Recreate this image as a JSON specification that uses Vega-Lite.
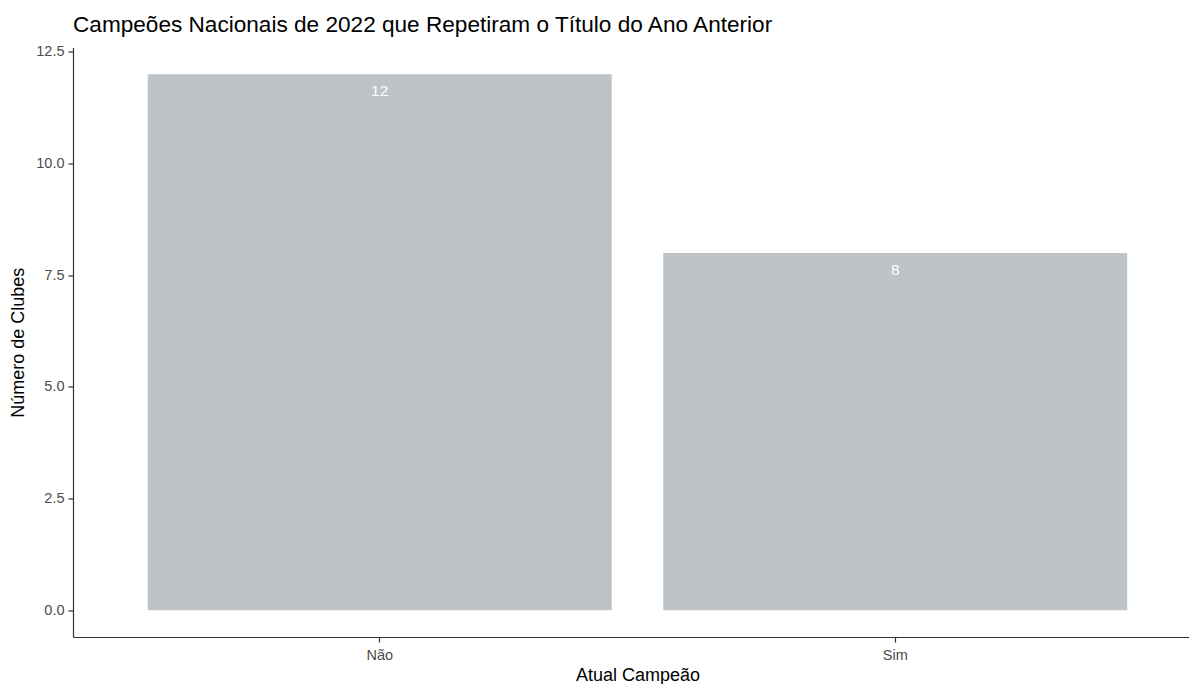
{
  "$schema": "https://vega.github.io/schema/vega-lite/v6.json",
  "autosize": {"type": "none"},
  "padding": {"left": 73, "top": 47.5, "right": 0, "bottom": 47},
  "width": 1116,
  "height": 589.5,
  "background": "white",
  "title": {
    "text": "Campeões Nacionais de 2022 que Repetiram o Título do Ano Anterior",
    "anchor": "start",
    "frame": "group",
    "font": "Liberation Sans",
    "fontSize": 22.6,
    "fontWeight": "normal",
    "color": "#000000",
    "baseline": "alphabetic",
    "offset": -11
  },
  "config": {
    "view": {"stroke": null},
    "axis": {
      "labelFont": "Liberation Sans",
      "titleFont": "Liberation Sans",
      "labelColor": "#4D4D4D",
      "labelFontSize": 14.5,
      "titleFontSize": 18,
      "titleFontWeight": "normal",
      "titleColor": "#000000",
      "domainColor": "#333333",
      "domainWidth": 1.2,
      "tickColor": "#333333",
      "tickWidth": 1.2,
      "tickSize": 5,
      "grid": false
    }
  },
  "data": {
    "values": [
      {"campeao": "Não", "clubes": 12},
      {"campeao": "Sim", "clubes": 8}
    ]
  },
  "encoding": {
    "x": {
      "field": "campeao",
      "type": "nominal",
      "sort": ["Não", "Sim"],
      "title": "Atual Campeão",
      "scale": {"range": [0, 1129], "paddingInner": 0.1, "paddingOuter": 0.145},
      "axis": {"labelAngle": 0, "labelPadding": 6, "titlePadding": 5}
    },
    "y": {
      "field": "clubes",
      "type": "quantitative",
      "title": "Número de Clubes",
      "scale": {"domain": [-0.6, 12.6], "nice": false, "zero": false},
      "axis": {"values": [0, 2.5, 5, 7.5, 10, 12.5], "format": ".1f", "labelPadding": 4, "titlePadding": 8}
    }
  },
  "layer": [
    {
      "mark": {"type": "bar", "color": "#BDC3C7"},
      "encoding": {"y2": {"datum": 0}}
    },
    {
      "mark": {"type": "text", "color": "white", "font": "Liberation Sans", "fontSize": 15.5, "baseline": "middle", "dy": 17},
      "encoding": {"text": {"field": "clubes", "type": "quantitative"}}
    }
  ]
}
